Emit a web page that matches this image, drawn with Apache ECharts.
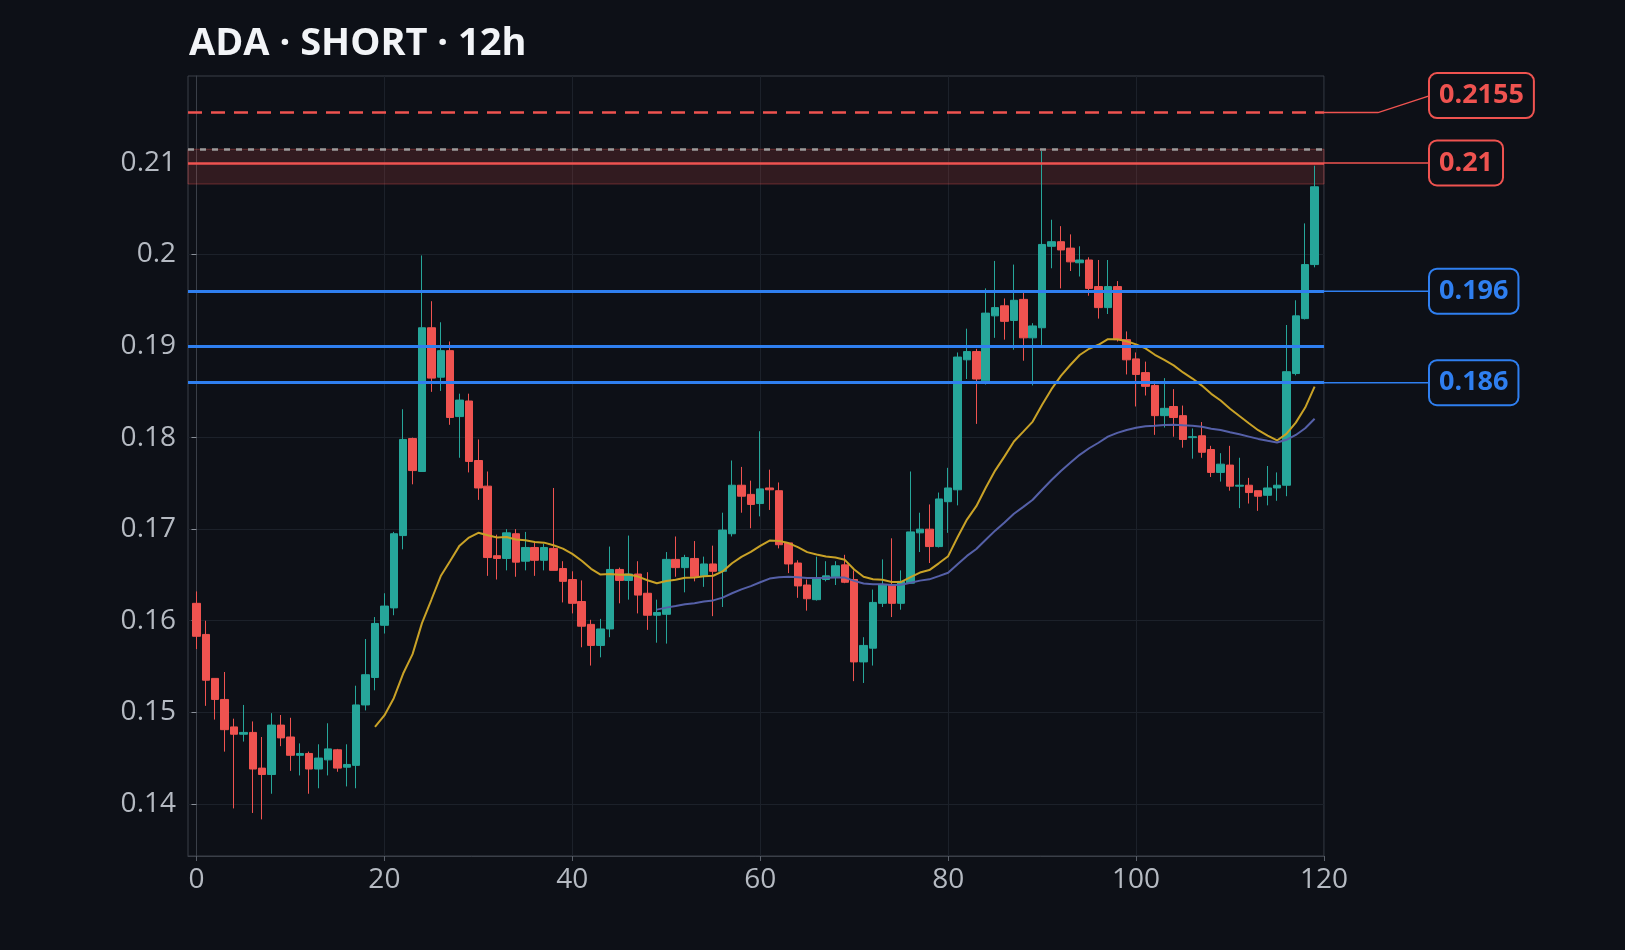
<!DOCTYPE html>
<html>
<head>
<meta charset="utf-8">
<script src="https://cdn.jsdelivr.net/npm/echarts@6/dist/echarts.min.js"></script>
<style>
  html, body { margin: 0; padding: 0; background: #0d1017; }
  #chart { width: 1625px; height: 950px; }
</style>
</head>
<body>
<div id="chart"></div>
<script>
// candle data, index 0..119
var opens = [.1619,.1585,.1537,.1514,.1484,.1476,.1478,.1439,.1432,.1486,.1473,.1453,.1455,.1438,.1448,.1459,.1440,.1442,.1508,.1538,
  .1595,.1614,.1693,.1799,.1763,.1920,.1866,.1895,.1823,.1840,.1775,.1747,.1671,.1668,.1695,.1665,.1680,.1666,.1679,.1657,
  .1645,.1621,.1596,.1573,.1591,.1656,.1644,.1651,.1630,.1606,.1607,.1667,.1658,.1668,.1649,.1662,.1654,.1695,.1748,.1738,
  .1728,.1745,.1742,.1685,.1663,.1639,.1623,.1645,.1648,.1661,.1645,.1555,.1570,.1619,.1639,.1619,.1641,.1696,.1700,.1681,
  .1730,.1743,.1885,.1894,.1862,.1933,.1944,.1928,.1951,.1909,.1920,.2009,.2014,.2007,.1991,.1994,.1965,.1942,.1965,.1907,
  .1886,.1871,.1857,.1824,.1834,.1824,.1800,.1802,.1787,.1762,.1770,.1747,.1748,.1742,.1737,.1745,.1748,.1870,.1930,.1989];
var closes = [.1583,.1535,.1514,.1481,.1476,.1478,.1438,.1432,.1486,.1472,.1453,.1455,.1438,.1450,.1460,.1439,.1443,.1508,.1541,.1597,
  .1616,.1695,.1798,.1764,.1920,.1865,.1895,.1822,.1841,.1774,.1745,.1669,.1668,.1696,.1664,.1680,.1666,.1680,.1655,.1643,
  .1619,.1594,.1573,.1591,.1656,.1644,.1651,.1628,.1606,.1609,.1667,.1658,.1669,.1648,.1662,.1654,.1699,.1748,.1736,.1727,
  .1744,.1743,.1683,.1662,.1638,.1624,.1647,.1649,.1660,.1642,.1555,.1573,.1620,.1639,.1619,.1643,.1697,.1700,.1681,.1733,
  .1745,.1888,.1894,.1864,.1936,.1942,.1927,.1950,.1909,.1922,.2011,.2014,.2005,.1992,.1994,.1963,.1942,.1965,.1907,.1885,
  .1869,.1856,.1824,.1832,.1822,.1798,.1801,.1784,.1762,.1771,.1747,.1748,.1740,.1736,.1745,.1748,.1872,.1933,.1989,.2074];
var lows = [.1569,.1507,.1492,.1457,.1395,.1468,.1390,.1383,.1411,.1463,.1436,.1431,.1411,.1417,.1431,.1435,.1419,.1417,.1502,.1524,
  .1586,.1606,.1678,.1749,.1763,.1850,.1851,.1814,.1778,.1762,.1732,.1649,.1645,.1655,.1648,.1655,.1649,.1655,.1655,.1620,
  .1608,.1571,.1551,.1560,.1582,.1619,.1623,.1608,.1590,.1576,.1575,.1648,.1631,.1643,.1637,.1605,.1615,.1692,.1718,.1701,
  .1714,.1721,.1679,.1652,.1625,.1611,.1622,.1643,.1639,.1641,.1534,.1532,.1551,.1615,.1604,.1612,.1641,.1675,.1663,.1680,
  .1696,.1726,.1864,.1815,.1858,.1909,.1907,.1896,.1884,.1857,.1901,.1985,.1963,.1982,.1976,.1955,.1930,.1935,.1905,.1869,
  .1834,.1846,.1803,.1811,.1801,.1789,.1777,.1778,.1757,.1752,.1742,.1723,.1728,.1720,.1726,.1731,.1736,.1868,.1929,.1986];
var highs = [.1632,.1600,.1537,.1544,.1493,.1508,.1490,.1473,.1499,.1497,.1494,.1466,.1457,.1465,.1488,.1460,.1465,.1529,.1580,.1604,
  .1630,.1697,.1831,.1800,.1999,.1949,.1926,.1905,.1848,.1848,.1798,.1763,.1694,.1700,.1700,.1697,.1687,.1684,.1745,.1665,
  .1654,.1644,.1601,.1602,.1681,.1658,.1693,.1665,.1653,.1623,.1675,.1692,.1672,.1687,.1670,.1682,.1718,.1775,.1768,.1753,
  .1807,.1765,.1751,.1685,.1666,.1645,.1670,.1665,.1665,.1672,.1655,.1582,.1634,.1667,.1690,.1655,.1763,.1718,.1727,.1740,
  .1767,.1893,.1919,.1897,.1963,.1993,.1952,.1989,.1958,.1925,.2113,.2038,.2031,.2022,.2009,.1997,.1994,.1994,.1971,.1916,
  .1893,.1883,.1862,.1865,.1853,.1835,.1810,.1817,.1791,.1783,.1791,.1778,.1756,.1742,.1769,.1762,.1923,.1950,.2034,.2097];

var yTicks = [0.14, 0.15, 0.16, 0.17, 0.18, 0.19, 0.2, 0.21];
var xTicks = [0, 20, 40, 60, 80, 100, 120];
var stopLevel = 0.2155;
var entryLevel = 0.21;
var zoneLow = 0.2077, zoneHigh = 0.2115;
var blueLevels = [0.196, 0.19, 0.186];
var labelled = [
  { v: 0.2155, text: '0.2155', color: '#ef5350', shift: -17 },
  { v: 0.21, text: '0.21', color: '#ef5350', shift: 0 },
  { v: 0.196, text: '0.196', color: '#2f7ff0', shift: 0 },
  { v: 0.186, text: '0.186', color: '#2f7ff0', shift: 0 }
];

var UP = '#26a69a', DOWN = '#ef5350';

// exponential average seeded with the simple mean of the first n closes
function ema(n) {
  var out = [], s = 0;
  for (var j = 0; j < n; j++) s += closes[j];
  var e = s / n, k = 2 / (n + 1);
  out.push([n - 1, e]);
  for (var i = n; i < closes.length; i++) {
    e = closes[i] * k + e * (1 - k);
    out.push([i, +e.toFixed(5)]);
  }
  return out;
}

var candles = [];
for (var i = 0; i < opens.length; i++) candles.push([i, opens[i], closes[i], lows[i], highs[i]]);

var chart = echarts.init(document.getElementById('chart'));
var font = 'Open Sans';
var lines = [
  { yAxis: stopLevel, lineStyle: { color: '#ef5350', type: [14, 9], width: 2.5 } },
  { yAxis: zoneHigh, lineStyle: { color: '#9a9a9a', type: [6, 6], width: 2.5 } },
  { yAxis: entryLevel, lineStyle: { color: '#ef5350', type: 'solid', width: 2.5 } }
];
blueLevels.forEach(function (v) {
  lines.push({ yAxis: v, lineStyle: { color: '#2f7ff0', type: 'solid', width: 3 } });
});

chart.setOption({
  backgroundColor: '#0d1017',
  animation: false,
  title: {
    text: 'ADA · SHORT · 12h', left: 184, top: 20,
    textStyle: { color: '#f2f4f7', fontSize: 38, fontWeight: 'bold', fontFamily: font }
  },
  grid: { left: 188, right: 301, top: 76, bottom: 94, show: true, borderColor: '#3a3f48', borderWidth: 1 },
  xAxis: {
    type: 'value', min: -0.9, max: 120, interval: 20,
    axisLine: { show: true, onZero: false, lineStyle: { color: '#3a3f48' } },
    axisTick: { show: true, customValues: xTicks, lineStyle: { color: '#5a606a' } },
    axisLabel: { customValues: xTicks, color: '#b5bac2', fontSize: 28, fontFamily: font, margin: 10 },
    splitLine: { show: true, lineStyle: { color: '#1c212a' } }
  },
  yAxis: {
    type: 'value', min: 0.1343, max: 0.2195, scale: true,
    axisLine: { show: true, lineStyle: { color: '#3a3f48' } },
    axisTick: { show: true, customValues: yTicks, lineStyle: { color: '#8a9099' } },
    axisLabel: { customValues: yTicks, color: '#b5bac2', fontSize: 28, fontFamily: font, margin: 12 },
    splitLine: { show: true, lineStyle: { color: '#1c212a' } }
  },
  series: [
    {
      type: 'candlestick', data: candles, barWidth: 8,
      itemStyle: { color: UP, color0: DOWN, borderColor: UP, borderColor0: DOWN, borderWidth: 1 },
      markArea: {
        silent: true,
        itemStyle: { color: 'rgba(239,83,80,0.17)', borderColor: 'rgba(239,83,80,0.35)', borderWidth: 1 },
        data: [[{ yAxis: zoneLow }, { yAxis: zoneHigh }]]
      },
      markLine: { silent: true, symbol: 'none', precision: 5, label: { show: false }, data: lines }
    },
    { type: 'line', data: ema(20), showSymbol: false, lineStyle: { color: '#c9a227', width: 2 }, z: 3 },
    { type: 'line', data: ema(50), showSymbol: false, lineStyle: { color: '#5560a8', width: 2 }, z: 3 }
  ]
});

// right-side price tags
var right = chart.convertToPixel({ xAxisIndex: 0 }, 120);
var boxX = 1430;
var graphics = [];
labelled.forEach(function (l) {
  var y = chart.convertToPixel({ yAxisIndex: 0 }, l.v);
  var by = y + l.shift;
  var pts = l.shift ? [[right, y], [1378, y], [boxX, by]] : [[right, y], [boxX, y]];
  graphics.push({ type: 'polyline', shape: { points: pts }, style: { stroke: l.color, lineWidth: 1.5 }, z: 5 });
  graphics.push({
    type: 'text', x: boxX, y: by,
    style: {
      text: l.text, fill: l.color, font: 'bold 27px "Open Sans"',
      verticalAlign: 'middle', align: 'left',
      backgroundColor: '#0d1017', borderColor: l.color, borderWidth: 2, borderRadius: 7,
      padding: [9, 9, 7, 9]
    }, z: 6
  });
});
chart.setOption({ graphic: graphics });
</script>
</body>
</html>
